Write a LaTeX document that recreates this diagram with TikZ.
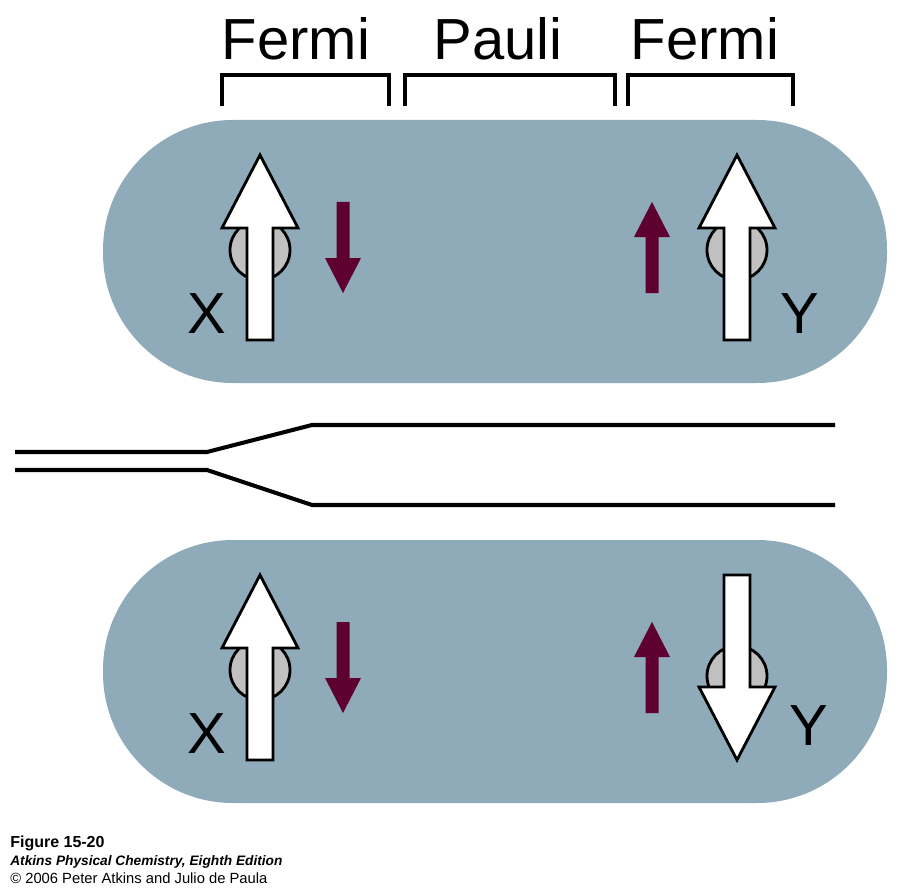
\documentclass[tikz,border=0pt]{standalone}
\usepackage{fontspec}
\setmainfont{Liberation Sans}
\usepackage{tikz}
\usetikzlibrary{positioning}
\definecolor{capsule-blue}{HTML}{8FAAB8}
\definecolor{spin-red}{HTML}{5E0030}
\definecolor{nucleus-grey}{HTML}{C0C0C0}

\begin{document}
\begin{tikzpicture}[
    x=0.02cm, y=-0.02cm,
    capsule/.style={fill=capsule-blue, rounded corners=2.6cm},
    bracket/.style={draw, line width=2.3pt},
    bond/.style={draw, line width=2.3pt},
    bigarrow/.style={draw, fill=white, line width=1.6pt, line join=miter},
    nucleus/.style={draw, fill=nucleus-grey, line width=1.6pt},
    spin/.style={fill=spin-red},
    label/.style={font=\fontsize{33}{36}\selectfont, anchor=base, inner sep=0pt},
    caption/.style={anchor=base west, inner sep=0pt}
]
    \useasboundingbox (0,0) rectangle (900,892);

    % headings and brackets
    \node (fermiL) [label] at (296,60) {Fermi};
    \node (pauli) [label] at (498,60) {Pauli};
    \node (fermiR) [label] at (705,60) {Fermi};
    \draw [bracket] (222,106) -- (222,75) -- (389,75) -- (389,106);
    \draw [bracket] (405,106) -- (405,75) -- (615,75) -- (615,106);
    \draw [bracket] (628,106) -- (628,75) -- (793,75) -- (793,106);

    % the two molecules
    \fill [capsule] (103,120) rectangle (887,383);
    \fill [capsule] (103,540) rectangle (887,803);

    % nuclei with their spins
    \foreach \bx/\by/\rot/\cy in {260/155/0/95, 737/155/0/95, 260/575/0/95, 737/760/180/84} {
        \begin{scope}[shift={(\bx,\by)}, rotate=\rot]
            \draw [nucleus] (0,\cy) circle [radius=30];
            \draw [bigarrow] (0,0) -- (38,73) -- (13,73) -- (13,185) -- (-13,185)
                -- (-13,73) -- (-38,73) -- cycle;
        \end{scope}
    }

    % electron spins
    \foreach \sx/\sy/\rot in {343/293/0, 652/202/180, 343/713/0, 652/622/180}
        \fill [spin, shift={(\sx,\sy)}, rotate=\rot] (0,0) -- (18,-35) -- (6.5,-35)
            -- (6.5,-91) -- (-6.5,-91) -- (-6.5,-35) -- (-18,-35) -- cycle;

    \node (xTop) [label] at (207,333) {X};
    \node (yTop) [label] at (800,333) {Y};
    \node (xBot) [label] at (207,753) {X};
    \node (yBot) [label] at (809,745) {Y};

    % the two levels
    \draw [bond] (15,452) -- (207,452) -- (312,425) -- (835,425);
    \draw [bond] (15,470) -- (207,470) -- (312,505) -- (835,505);

    \node (figNo) [caption, font=\fontsize{9.1}{10}\selectfont\bfseries] at (10,847) {Figure 15-20};
    \node (book) [caption, font=\fontsize{7.8}{10}\selectfont\bfseries\itshape] at (10,865) {Atkins Physical Chemistry, Eighth Edition};
    \node (copy) [caption, font=\fontsize{8.4}{10}\selectfont] at (10,883) {© 2006 Peter Atkins and Julio de Paula};
\end{tikzpicture}
\end{document}
